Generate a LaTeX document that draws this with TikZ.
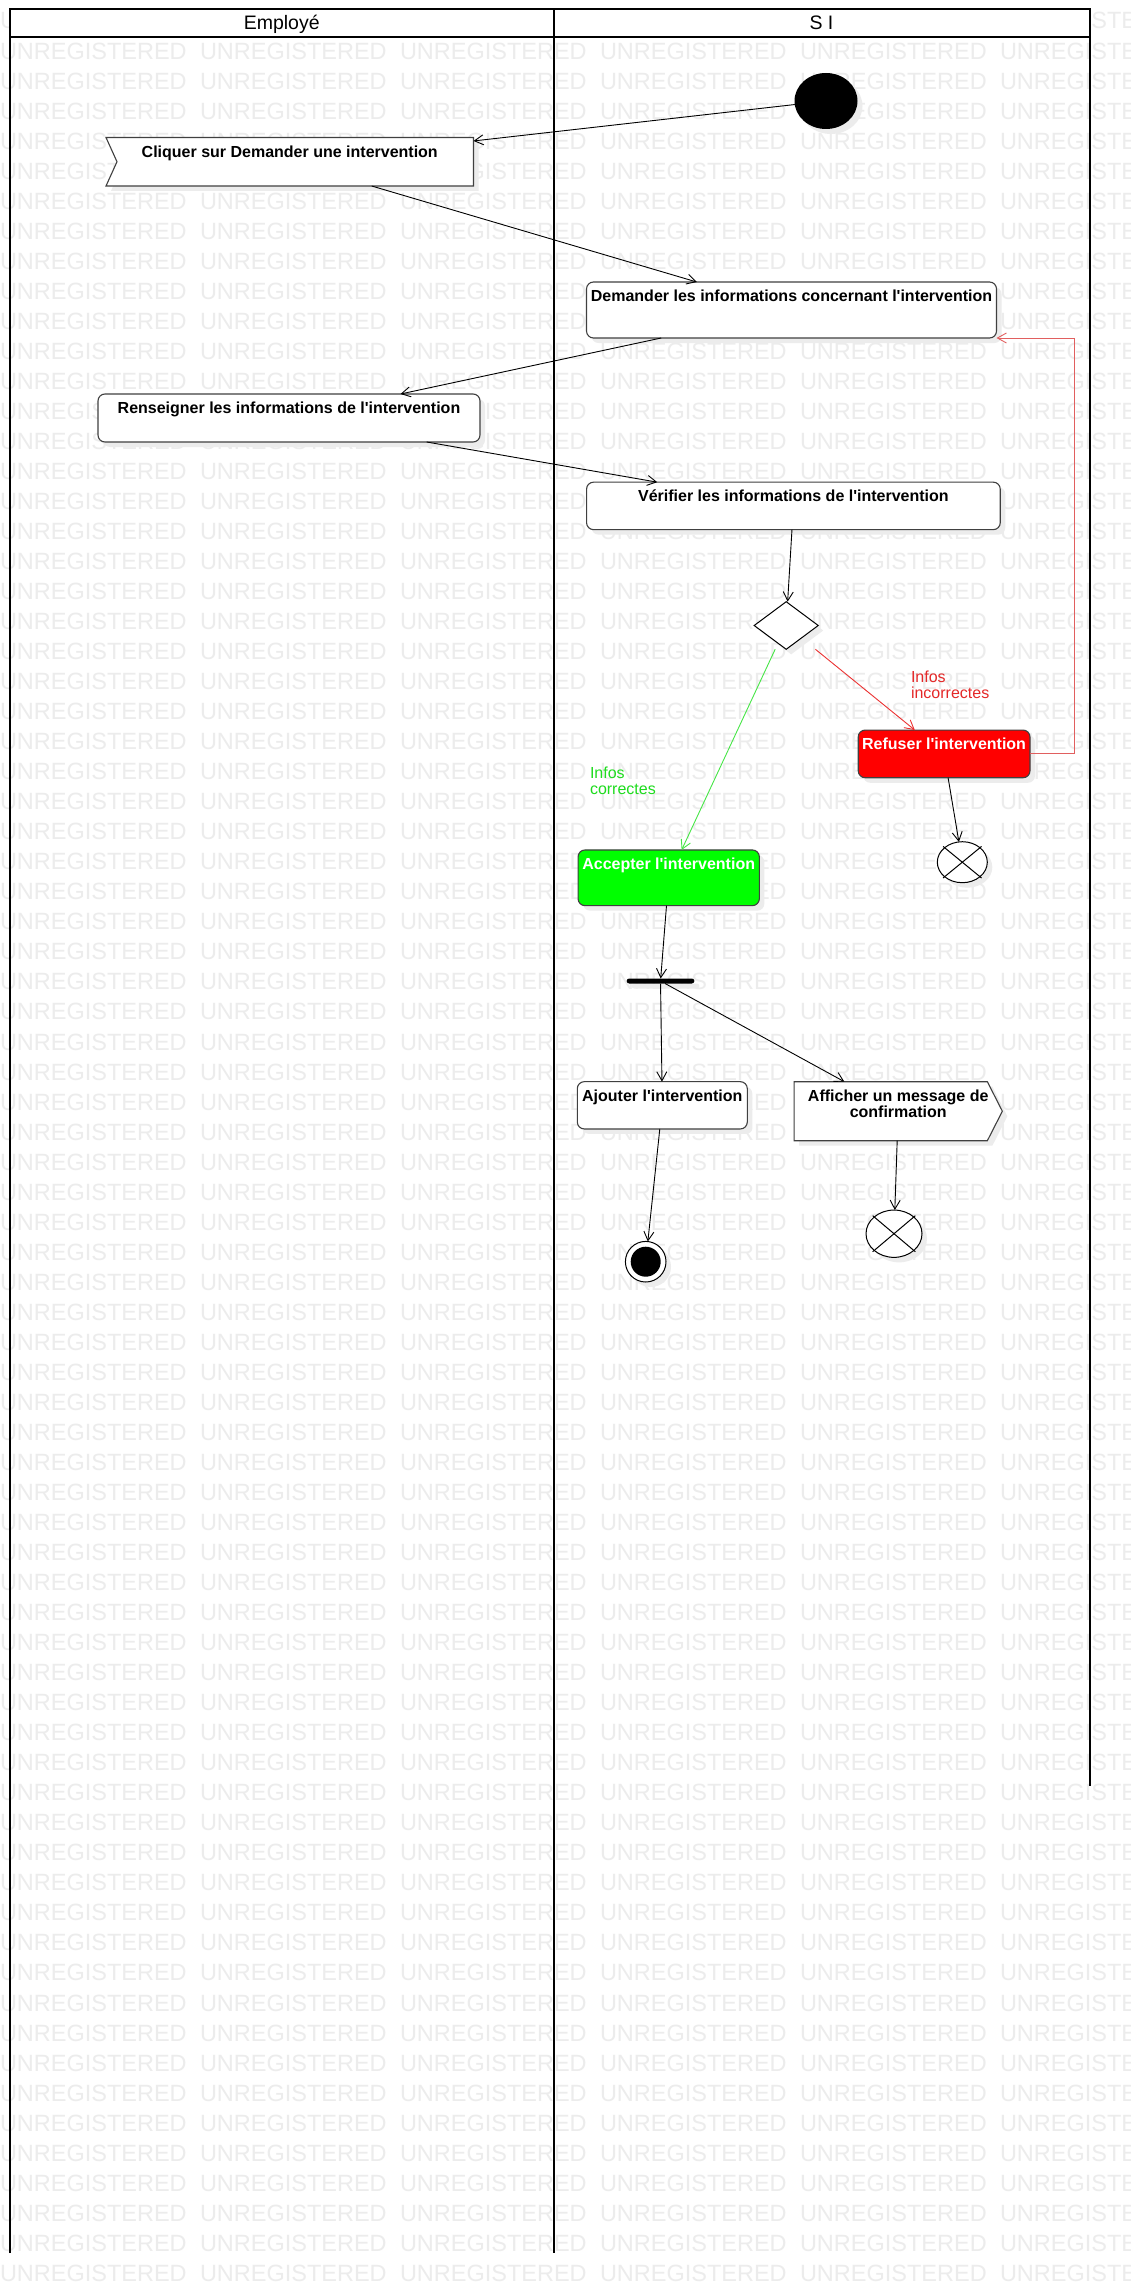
\documentclass[tikz,border=0pt]{standalone}
\usepackage{fontspec}
\setmainfont{Liberation Sans}
\usetikzlibrary{arrows.meta,shapes.geometric,calc,shadows}
\newcommand{\ap}{\textquotesingle}
\definecolor{redline}{RGB}{235,50,50}
\definecolor{redback}{RGB}{225,95,95}
\definecolor{greenline}{RGB}{70,230,70}
\definecolor{redtxt}{RGB}{228,40,40}
\definecolor{greentxt}{RGB}{30,220,30}
\definecolor{pured}{RGB}{255,0,0}
\definecolor{pugreen}{RGB}{0,255,0}
\definecolor{wmgray}{RGB}{236,236,236}
\definecolor{shdgray}{RGB}{236,236,236}
\begin{document}
\begin{tikzpicture}[x=1pt,y=-1pt,
  every node/.style={inner sep=0pt, outer sep=0pt},
  wm/.style={anchor=base west, text=wmgray, font=\fontsize{23.5}{24}\selectfont},
  lane/.style={line width=2pt, draw=black},
  shd/.style={drop shadow={shadow xshift=5pt, shadow yshift=-5pt, fill=shdgray, opacity=1}},
  shapeline/.style={draw=black!75, line width=1.1pt},
  box/.style={rectangle, shapeline, fill=white, rounded corners=7pt, shd},
  txt/.style={font=\fontsize{16}{16.5}\selectfont\bfseries, anchor=north, align=center},
  lbl/.style={font=\fontsize{16}{16}\selectfont, anchor=north west, align=left},
  flow/.style={draw=black, line width=0.9pt, -{Straight Barb[length=9pt,width=10pt]}},
  flowred/.style={flow, draw=redline},
  flowgreen/.style={flow, draw=greenline},
  flowback/.style={flow, draw=redback}
]
\useasboundingbox (0,0) rectangle (1130,2290);
\fill[white] (0,0) rectangle (1130,2290);

% watermark
\foreach \r in {0,...,75}{
  \foreach \c in {0,...,5}{
    \node[wm] (wm-\r-\c) at (200*\c, 29+30.03*\r) {UNREGISTERED};
  }
}

% swimlanes
\fill[white] (10,9.3) rectangle (1089.5,37.3);
\draw[lane] (10,2253) -- (10,9.3) -- (1089.5,9.3) -- (1089.5,1786);
\draw[lane] (10,37.3) -- (1089.5,37.3);
\draw[lane] (553.5,9.3) -- (553.5,2253);
\node[font=\fontsize{19.5}{20}\selectfont, anchor=base] (h1) at (281.75,30) {Employé};
\node[font=\fontsize{19.5}{20}\selectfont, anchor=base] (h2) at (821.5,30) {S I};

% initial node
\node[ellipse, fill=black, minimum width=63pt, minimum height=56pt, shd] (init) at (826,101) {};

% Cliquer (accept event shape)
\node[rectangle, minimum width=367.5pt, minimum height=48.5pt] (cliquer) at (289.75,161.75) {};
\draw[shapeline, fill=white, shd] (cliquer.north west) -- (cliquer.north east) -- (cliquer.south east)
  -- (cliquer.south west) -- ($(cliquer.west)+(11,0)$) -- cycle;
\node[txt] (cliquer-t) at ($(cliquer.north)+(0,8)$) {Cliquer sur Demander une intervention};

% Demander
\node[box, minimum width=410pt, minimum height=56pt] (demander) at (791.5,310) {};
\node[txt] (demander-t) at ($(demander.north)+(0,8)$) {Demander les informations concernant l\ap intervention};

% Renseigner
\node[box, minimum width=382pt, minimum height=48pt] (renseigner) at (289,418) {};
\node[txt] (renseigner-t) at ($(renseigner.north)+(0,8)$) {Renseigner les informations de l\ap intervention};

% Verifier
\node[box, minimum width=413.7pt, minimum height=47.5pt] (verifier) at (793.4,505.9) {};
\node[txt] (verifier-t) at ($(verifier.north)+(0,8)$) {Vérifier les informations de l\ap intervention};

% decision
\node[rectangle, minimum width=64pt, minimum height=47.6pt] (dec) at (786.2,625.5) {};
\draw[draw=black, line width=1pt, fill=white, shd] (dec.north) -- (dec.east) -- (dec.south) -- (dec.west) -- cycle;

% Refuser
\node[box, fill=pured, minimum width=171.8pt, minimum height=47.7pt] (refuser) at (944.1,753.9) {};
\node[txt, text=white] (refuser-t) at ($(refuser.north)+(0,8)$) {Refuser l\ap intervention};

% Accepter
\node[box, fill=pugreen, minimum width=181.3pt, minimum height=55.7pt] (accepter) at (668.7,877.8) {};
\node[txt, text=white] (accepter-t) at ($(accepter.north)+(0,8)$) {Accepter l\ap intervention};

% guard labels
\node[lbl, text=redtxt] (lbl-no) at (911,671) {Infos\\incorrectes};
\node[lbl, text=greentxt] (lbl-yes) at (590,767) {Infos\\correctes};

% flow final 1
\node[ellipse, draw=black, line width=1pt, fill=white, minimum width=50pt, minimum height=41pt, shd] (ff1) at (962.3,862.2) {};
\draw[line width=1pt, shorten <=-2pt, shorten >=-2pt] (ff1.north west) -- (ff1.south east);
\draw[line width=1pt, shorten <=-2pt, shorten >=-2pt] (ff1.north east) -- (ff1.south west);

% fork
\node[rectangle, fill=black, rounded corners=2.5pt, minimum width=67.7pt, minimum height=5pt, shd] (fork) at (660.5,981) {};

% Ajouter
\node[box, minimum width=170pt, minimum height=47.3pt] (ajouter) at (662.3,1105.3) {};
\node[txt] (ajouter-t) at ($(ajouter.north)+(0,8)$) {Ajouter l\ap intervention};

% Afficher (send signal shape)
\node[rectangle, minimum width=208.3pt, minimum height=59pt] (afficher) at (898.2,1111.2) {};
\draw[shapeline, fill=white, shd] (afficher.north west) -- ($(afficher.north east)+(-15,0)$) -- (afficher.east)
  -- ($(afficher.south east)+(-15,0)$) -- (afficher.south west) -- cycle;
\node[txt] (afficher-t) at ($(afficher.north)+(0,8)$) {Afficher un message de\\confirmation};

% final node
\node[circle, draw=black, line width=1pt, fill=white, minimum size=40.6pt, shd] (final) at (645.7,1261.7) {};
\fill[black] (final.center) circle[radius=15pt];

% flow final 2
\node[ellipse, draw=black, line width=1pt, fill=white, minimum width=56pt, minimum height=47.3pt, shd] (ff2) at (894,1233.7) {};
\draw[line width=1pt, shorten <=-2pt, shorten >=-2pt] (ff2.north west) -- (ff2.south east);
\draw[line width=1pt, shorten <=-2pt, shorten >=-2pt] (ff2.north east) -- (ff2.south west);

% connectors
\draw[flow] (init) -- (cliquer);
\draw[flow] (cliquer) -- (demander);
\draw[flow] (demander) -- (renseigner);
\draw[flow] (renseigner) -- (verifier);
\draw[flow] (verifier) -- (dec);
\draw[flowred] (dec) -- (refuser);
\draw[flowgreen] (dec) -- (accepter);
\draw[flow] (refuser) -- (ff1);
\draw[flowback] (refuser.east) -- ++(44,0) |- (demander.south east);
\draw[flow] (accepter) -- (fork);
\draw[flow] (fork) -- (ajouter);
\draw[flow] (fork) -- (afficher);
\draw[flow] (ajouter) -- (final);
\draw[flow] (afficher) -- (ff2);
\end{tikzpicture}
\end{document}
